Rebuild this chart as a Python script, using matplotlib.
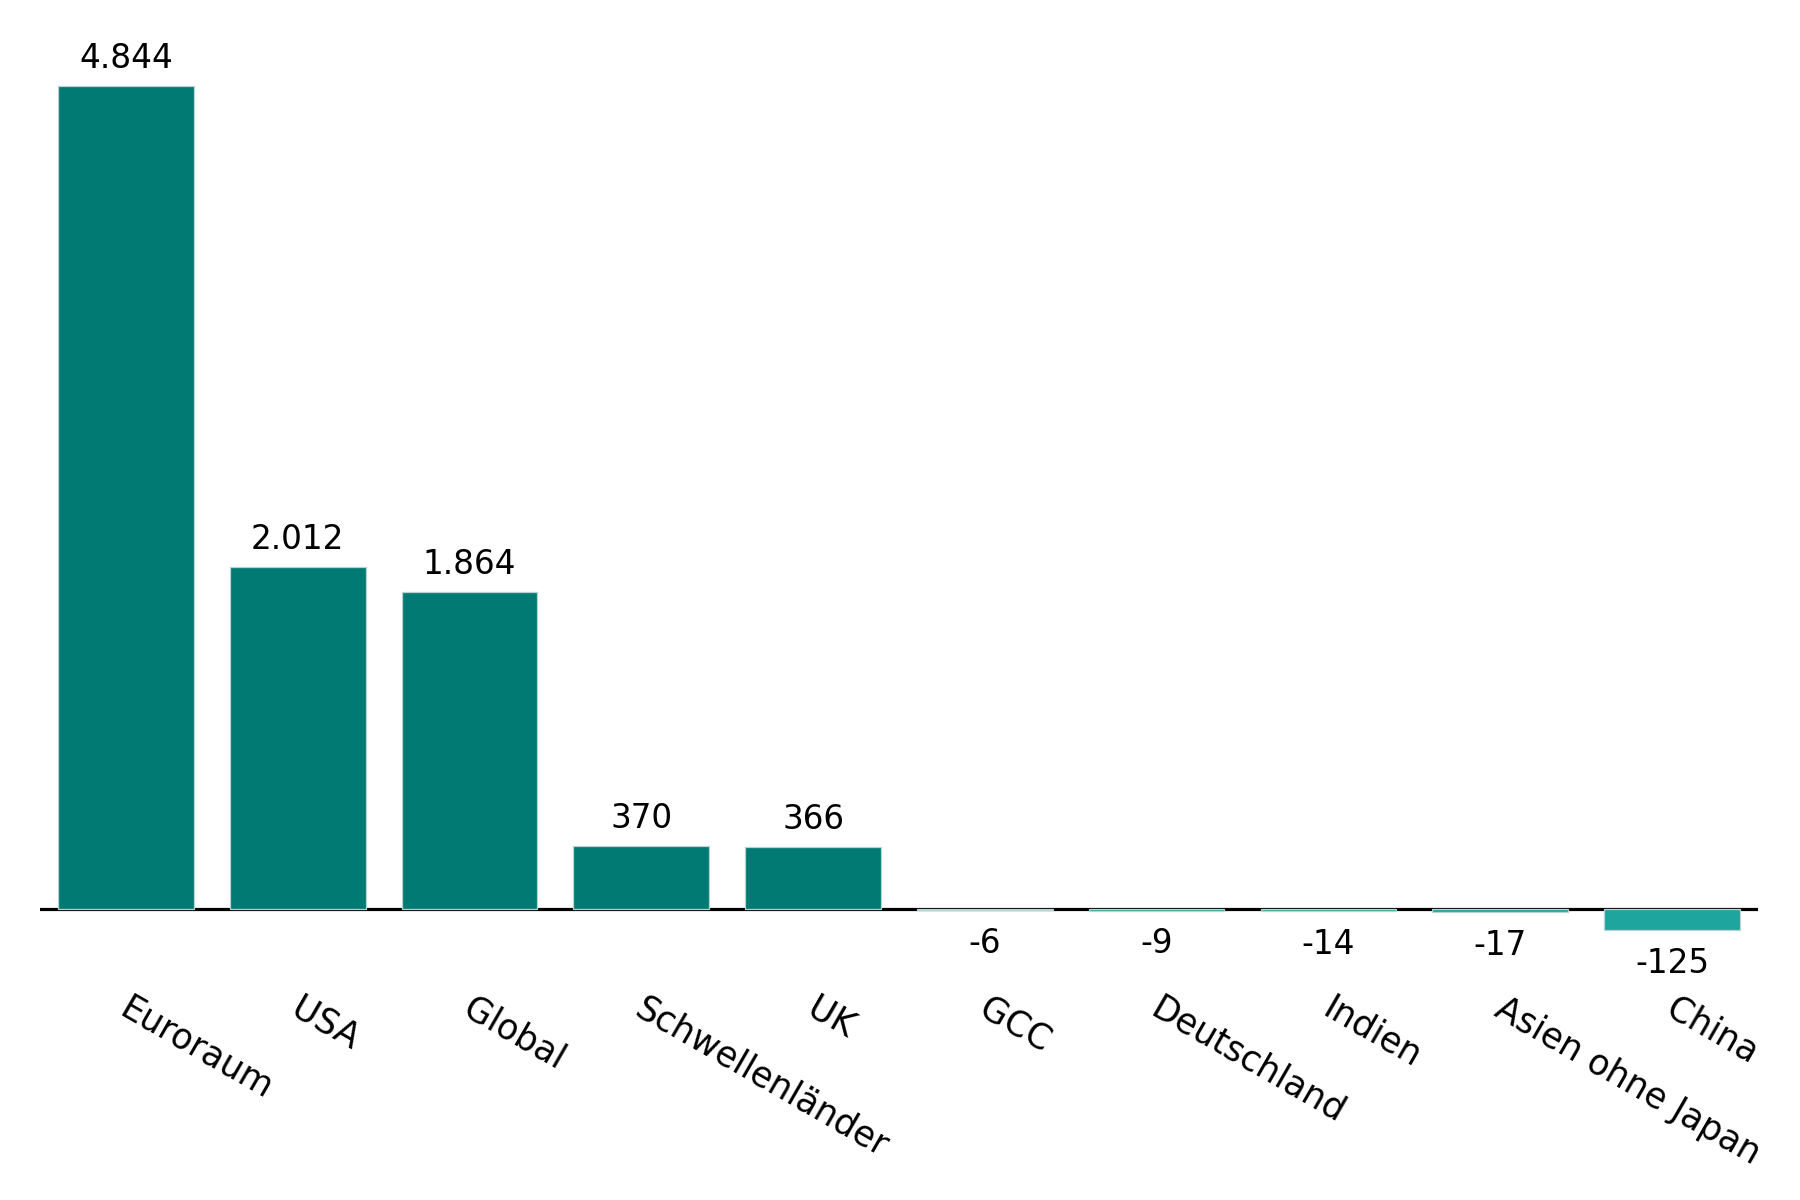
import matplotlib.pyplot as plt
from matplotlib.transforms import ScaledTranslation

# --- Daten ---
regionen = ["Euroraum", "USA", "Global", "Schwellenländer", "UK",
            "GCC", "Deutschland", "Indien", "Asien ohne Japan", "China"]
werte = [4844, 2012, 1864, 370, 366, -6, -9, -14, -17, -125]

POS_COLOR = "#007a73"
NEG_COLOR = "#1ea59d"
FS = 23.5

plt.rcParams['font.family'] = ['DejaVu Sans']

fig = plt.figure(figsize=(18, 12), dpi=100)
ax = fig.add_axes([0.0222, 1 - 940 / 1200, 0.9544, 920 / 1200])

x = list(range(len(regionen)))
farben = [POS_COLOR if v >= 0 else NEG_COLOR for v in werte]
ax.bar(x, werte, width=0.79, color=farben, edgecolor="#b8d4d2", linewidth=0.9, zorder=2)

# Nulllinie
ax.axhline(0, color="black", linewidth=2.3, zorder=1)

# Wertebeschriftung (deutsches Tausendertrennzeichen)
for xi, v in zip(x, werte):
    txt = f"{v:,}".replace(",", ".")
    if v >= 0:
        ax.annotate(txt, (xi, v), xytext=(0, 8), textcoords="offset points",
                    ha="center", va="bottom", fontsize=FS)
    else:
        ax.annotate(txt, (xi, v), xytext=(0, -12), textcoords="offset points",
                    ha="center", va="top", fontsize=FS)

ax.set_xlim(-0.5, 9.5)
ax.set_ylim(-182, 5232)

ax.set_xticks(x)
ax.set_xticklabels(regionen, rotation=-30, ha="left", va="top",
                   rotation_mode="anchor", fontsize=25)
ax.tick_params(axis="x", length=0, pad=37)
# Labels etwas nach rechts schieben
verschiebung = ScaledTranslation(4 / 72, 0, fig.dpi_scale_trans)
for lab in ax.get_xticklabels():
    lab.set_transform(lab.get_transform() + verschiebung)
ax.set_yticks([])

for s in ax.spines.values():
    s.set_visible(False)

fig.savefig("out.png", dpi=100, facecolor="white")
